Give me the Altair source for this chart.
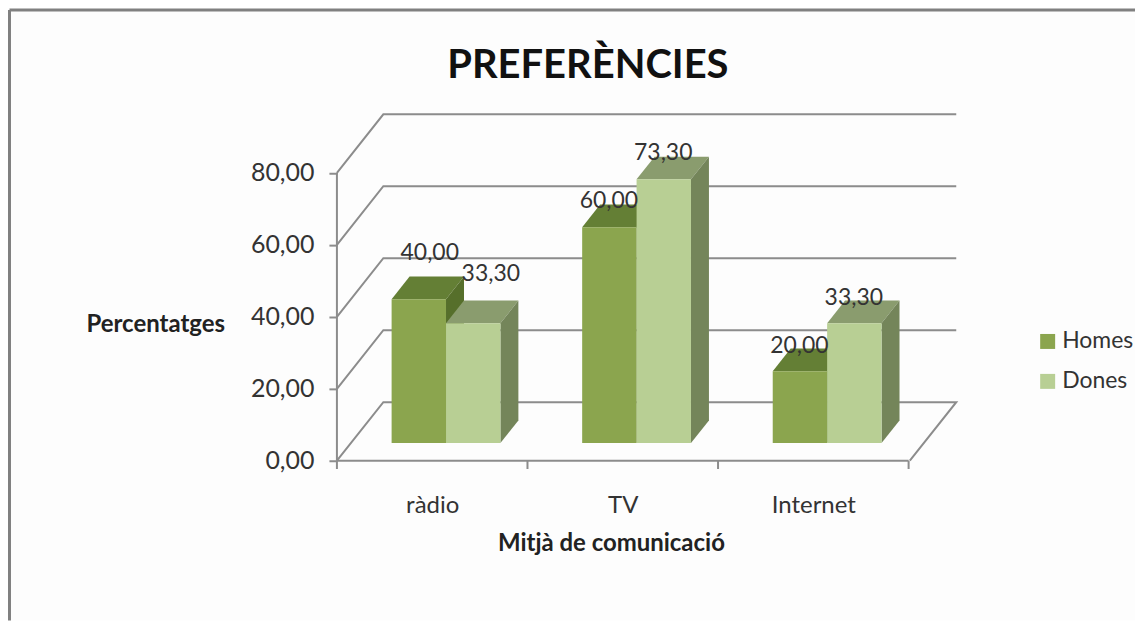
import altair as alt
import pandas as pd

categories = ["ràdio", "TV", "Internet"]
series_names = ["Homes", "Dones"]
homes = [40.0, 60.0, 20.0]
dones = [33.3, 73.3, 33.3]
tick_values = [0, 20, 40, 60, 80]

FONT = "Lato"
TEXT = "#333333"
GREY = "#8c8c8c"
front = {"Homes": "#8ba54e", "Dones": "#b8cf94"}
top_c = {"Homes": "#647f35", "Dones": "#8a9c6e"}
side_c = {"Homes": "#566f2b", "Dones": "#74855a"}

W, H = 1129, 613
PX_X, PX_Y = 190.9, 3.605       # pixels per category / per percentage point
ORIGIN_X, ORIGIN_Y = 329.5, 453  # axis origin inside the plot frame
x_dom = [-ORIGIN_X / PX_X, (W - ORIGIN_X) / PX_X]
y_dom = [(ORIGIN_Y - H) / PX_Y, ORIGIN_Y / PX_Y]
x_s = alt.Scale(domain=x_dom, zero=False, nice=False)
y_s = alt.Scale(domain=y_dom, zero=False, nice=False)

BAR_W, BAR_START = 0.2855, 0.287
DEPTH_X, DEPTH_Y = 0.0943, 6.3   # bar depth
FLOOR = 4.9                     # front plane of the bars above the axis
WALL_X, WALL_Y, WALL_END = 0.2436, 16.28, 3.25

label_nudge = {
    ("ràdio", "Homes"): (0.20, 12.8), ("ràdio", "Dones"): (0.235, 13.8),
    ("TV", "Homes"): (0.14, 7.3), ("TV", "Dones"): (0.14, 7.2),
    ("Internet", "Homes"): (0.14, 7.0), ("Internet", "Dones"): (0.14, 7.0),
}

bars, tops, sides, labels = [], [], [], []
for i, cat in enumerate(categories):
    for j, (name, vals) in enumerate(zip(series_names, [homes, dones])):
        v = vals[i]
        x0 = i + BAR_START + j * BAR_W
        x1 = x0 + BAR_W
        t = v + FLOOR
        bars.append(dict(cat=cat, serie=name, x=x0, x1=x1, y0=FLOOR, y=t))
        for x, lo, hi in [(x0, t, t), (x0 + DEPTH_X, t, t + DEPTH_Y),
                          (x1, t, t + DEPTH_Y), (x1 + DEPTH_X, t + DEPTH_Y, t + DEPTH_Y)]:
            tops.append(dict(cat=cat, serie=name, x=x, y=lo, hi=hi))
        for x, lo, hi in [(x1, FLOOR, t), (x1 + DEPTH_X, FLOOR + DEPTH_Y, t + DEPTH_Y)]:
            sides.append(dict(cat=cat, serie=name, x=x, y=lo, hi=hi))
        nx, ny = label_nudge[(cat, name)]
        labels.append(dict(x=x0 + nx, y=t + ny, text=f"{v:.2f}".replace(".", ",")))

grid = []
for v in tick_values:
    pts = [(0, v), (WALL_X, v + WALL_Y), (WALL_END, v + WALL_Y)]
    if v == 0:
        pts.append((WALL_END - WALL_X, 0))
    for k, (x, y) in enumerate(pts):
        grid.append(dict(level=v, k=k, x=x, y=y))

y_axis = alt.Axis(
    values=tick_values, offset=-ORIGIN_X, domain=False, grid=False,
    tickColor=GREY, tickWidth=2, tickSize=8,
    labelExpr="replace(format(datum.value,'.2f'),'.',',')",
    labelFont=FONT, labelFontSize=25, labelColor=TEXT, labelPadding=15,
    title="Percentatges", titleAngle=0, titleFont=FONT, titleFontSize=24,
    titleFontWeight="bold", titleColor="#222222", titleAlign="center",
    titleBaseline="middle", titleX=-182, titleY=ORIGIN_Y - 136,
)
x_axis = alt.Axis(
    values=[i + 0.5 for i in range(len(categories))],
    offset=-(H - ORIGIN_Y), domain=False, grid=False, ticks=False,
    labelExpr=f"{categories!r}[floor(datum.value)]",
    labelFont=FONT, labelFontSize=24, labelColor=TEXT, labelPadding=33,
    title="Mitjà de comunicació", titleFont=FONT, titleFontSize=24,
    titleFontWeight="bold", titleColor="#222222",
    titleAlign="center", titleBaseline="middle", titleX=604, titleY=83,
)

X = alt.X("x:Q", scale=x_s, axis=x_axis)
Y = alt.Y("y:Q", scale=y_s, axis=y_axis, stack=None)

layers = []
# frame: top and left edges only
layers.append(alt.Chart(pd.DataFrame({"a": [0]})).mark_rule(color="#808080", strokeWidth=3).encode(
    x=alt.value(1.5), x2=alt.value(W), y=alt.value(1.5)))
layers.append(alt.Chart(pd.DataFrame({"a": [0]})).mark_rule(color="#808080", strokeWidth=3).encode(
    x=alt.value(1.5), y=alt.value(1.5), y2=alt.value(H)))
# walls and floor
layers.append(alt.Chart(pd.DataFrame(grid)).mark_line(color=GREY, strokeWidth=2).encode(
    x=X, y=Y, detail="level:N", order="k:Q"))
# y axis line, baseline and category ticks
layers.append(alt.Chart(pd.DataFrame({"x": [0], "y": [0], "y2": [80]})).mark_rule(color=GREY, strokeWidth=2).encode(
    x=X, y=Y, y2="y2:Q"))
layers.append(alt.Chart(pd.DataFrame({"x": [0], "x2": [3], "y": [0]})).mark_rule(color=GREY, strokeWidth=2).encode(
    x=X, x2="x2:Q", y=Y))
layers.append(alt.Chart(pd.DataFrame({"x": [0, 1, 2, 3], "y": [0] * 4, "y2": [-2.3] * 4})).mark_rule(
    color=GREY, strokeWidth=2).encode(x=X, y=Y, y2="y2:Q"))

# 3D faces
tops_df, sides_df = pd.DataFrame(tops), pd.DataFrame(sides)
for name in series_names:
    layers.append(alt.Chart(tops_df[tops_df.serie == name]).mark_area(
        color=top_c[name], orient="vertical").encode(x=X, y=Y, y2="hi:Q", detail="cat:N"))
    layers.append(alt.Chart(sides_df[sides_df.serie == name]).mark_area(
        color=side_c[name], orient="vertical").encode(x=X, y=Y, y2="hi:Q", detail="cat:N"))

# front faces and legend
layers.append(alt.Chart(pd.DataFrame(bars)).mark_bar().encode(
    x=X,
    x2="x1:Q",
    y=Y,
    y2="y0:Q",
    color=alt.Color("serie:N", scale=alt.Scale(domain=series_names, range=[front[s] for s in series_names]),
                    legend=alt.Legend(
                        orient="none", legendX=1030, legendY=322, title=None, symbolType="square",
                        symbolSize=225, symbolStrokeWidth=0, labelFont=FONT, labelFontSize=23,
                        labelColor=TEXT, rowPadding=16, labelOffset=3)),
))

layers.append(alt.Chart(pd.DataFrame(labels)).mark_text(
    font=FONT, fontSize=23, color=TEXT, align="center", baseline="middle").encode(x=X, y=Y, text="text:N"))

chart = alt.layer(*layers).properties(
    width=W, height=H,
    padding=0,
    background="white",
    title=alt.TitleParams("PREFERÈNCIES", font=FONT, fontSize=40, fontWeight="bold", color="#111111",
                          anchor="start", dx=440, offset=-98, baseline="middle"),
).configure_view(stroke=None, fill="#fdfdfd")

chart.save("out.html", embed_options={"renderer": "svg", "actions": False})
